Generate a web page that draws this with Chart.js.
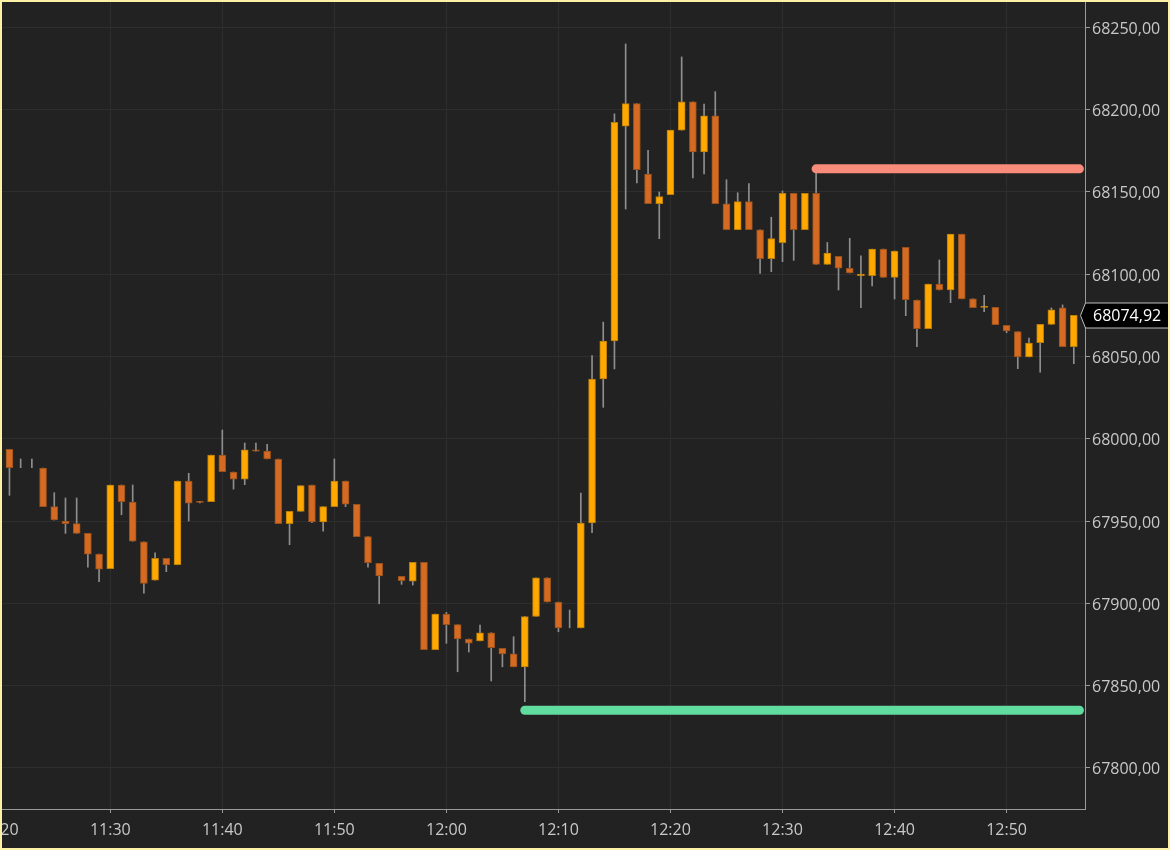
<!DOCTYPE html>
<html>
<head>
<meta charset="utf-8">
<script src="https://cdn.jsdelivr.net/npm/chart.js@4.4.0/dist/chart.umd.min.js"></script>
<style>
  html, body { margin: 0; padding: 0; background: #222; }
  #frame { width: 1166px; height: 846px; border: 2px solid #fbf2a6; }
  canvas { display: block; background: #222222; }
</style>
</head>
<body>
<div id="frame"><canvas id="priceChart" width="1166" height="846"></canvas></div>
<script>
// 1-minute candles, 11:21 - 12:56 (no bar at 11:55)
const times = [
  '11:21','11:22','11:23','11:24','11:25','11:26','11:27','11:28','11:29','11:30',
  '11:31','11:32','11:33','11:34','11:35','11:36','11:37','11:38','11:39','11:40',
  '11:41','11:42','11:43','11:44','11:45','11:46','11:47','11:48','11:49','11:50',
  '11:51','11:52','11:53','11:54','11:56','11:57','11:58','11:59','12:00',
  '12:01','12:02','12:03','12:04','12:05','12:06','12:07','12:08','12:09','12:10',
  '12:11','12:12','12:13','12:14','12:15','12:16','12:17','12:18','12:19','12:20',
  '12:21','12:22','12:23','12:24','12:25','12:26','12:27','12:28','12:29','12:30',
  '12:31','12:32','12:33','12:34','12:35','12:36','12:37','12:38','12:39','12:40',
  '12:41','12:42','12:43','12:44','12:45','12:46','12:47','12:48','12:49','12:50',
  '12:51','12:52','12:53','12:54','12:55','12:56'
];

const opens = [
  67993.6, 67985, 67985, 67982.2, 67958.7, 67950, 67948.4, 67942.5, 67929.9, 67921,
  67971.9, 67961.5, 67937.4, 67914.1, 67927.3, 67923.4, 67974.3, 67961.7, 67961.7, 67990.1,
  67979.8, 67975.5, 67993.2, 67992.5, 67987.7, 67948.4, 67955.9, 67971.9, 67949.4, 67958.7,
  67974.3, 67960.1, 67940.5, 67924.3, 67916.4, 67913.5, 67924.9, 67871.8, 67893.5,
  67887, 67878.3, 67877.2, 67882.1, 67872.6, 67869.3, 67861.4, 67892, 67915.5, 67900.8,
  67886, 67885.1, 67948.8, 68036.3, 68059.4, 68189.9, 68203.6, 68160.9, 68142.8, 68148.3,
  68187.5, 68204.7, 68174.3, 68196.2, 68142.7, 68127, 68144.1, 68126.9, 68109.4, 68119.1,
  68149.2, 68127, 68149.2, 68106, 68110.9, 68103.6, 68099.1, 68099.1, 68115.3, 68098.1,
  68116.3, 68084.3, 68066.9, 68094, 68090.4, 68124.3, 68085, 68079.8, 68079.9, 68068.9,
  68065.1, 68049.7, 68058.4, 68069.5, 68079.5, 68055.9
];

const highs = [
  67993.6, 67987.7, 67987.7, 67982.2, 67967.2, 67964, 67964, 67942.5, 67929.9, 67971.9,
  67971.9, 67971.9, 67937.4, 67930.7, 67927.3, 67974.3, 67979, 67962, 67990.1, 68005.3,
  67979.8, 67997.4, 67997.4, 67996.6, 67987.7, 67955.9, 67971.5, 67971.9, 67958.7, 67987.7,
  67974.3, 67960.1, 67940.5, 67924.3, 67916.4, 67924.9, 67924.9, 67893.5, 67894.5,
  67887, 67878.3, 67886.8, 67882.1, 67872.6, 67879.7, 67892, 67915.5, 67915.5, 67900.8,
  67895.9, 67967, 68050.5, 68070.9, 68197.4, 68239.9, 68203.6, 68175.3, 68150, 68187.5,
  68232, 68204.7, 68203.3, 68210.9, 68157.4, 68149.5, 68155, 68126.9, 68134.6, 68150.6,
  68149.2, 68149.2, 68163.3, 68119.3, 68110.9, 68121.8, 68111.1, 68115.3, 68115.3, 68114.1,
  68116.3, 68084.3, 68094, 68108.6, 68124.3, 68124.3, 68085, 68087.2, 68079.9, 68068.9,
  68065.1, 68061.2, 68069.5, 68079.5, 68081.3, 68074.92
];

const lows = [
  67965.6, 67982.4, 67982.4, 67958.7, 67950.6, 67942.5, 67942.5, 67922, 67913.1, 67921,
  67953.8, 67937.7, 67906.1, 67914.1, 67919.2, 67923.4, 67950, 67961, 67961.7, 67980,
  67969.4, 67972.1, 67992.5, 67987.7, 67948.4, 67935.6, 67955.9, 67949, 67943.9, 67958.7,
  67958.7, 67940.5, 67921.9, 67899.7, 67911.5, 67911.1, 67871.8, 67871.8, 67875.7,
  67858.4, 67870.4, 67877.2, 67852.8, 67861.4, 67861.4, 67840.2, 67892, 67900.8, 67882.7,
  67885.1, 67885.1, 67942.9, 68019.1, 68042.4, 68139.6, 68155.4, 68142.8, 68121.6, 68148.3,
  68187.5, 68158.5, 68160.9, 68142.8, 68127, 68127, 68127, 68100.5, 68101.5, 68107.6,
  68108.4, 68127, 68106, 68106, 68090.4, 68100.7, 68079.6, 68092.8, 68098.1, 68084.9,
  68074.8, 68055.9, 68066.9, 68090.4, 68082.7, 68085, 68079.6, 68077.2, 68069.3, 68064.4,
  68042.6, 68049.7, 68040.4, 68069.5, 68055.9, 68045.6
];

const closes = [
  67982.4, 67985, 67985, 67958.7, 67950.6, 67948.4, 67942.5, 67929.9, 67920.8, 67971.9,
  67961.7, 67937.7, 67912.1, 67927.3, 67923.4, 67974.3, 67960.8, 67961.3, 67990.1, 67980,
  67975.5, 67993.2, 67992.5, 67987.7, 67948.4, 67955.9, 67971.5, 67949.4, 67958.7, 67974.3,
  67960.3, 67940.5, 67924.7, 67916.6, 67913.7, 67924.9, 67871.8, 67893.5, 67887,
  67878.3, 67875.8, 67882.1, 67873, 67869.3, 67861.4, 67892, 67915.5, 67900.8, 67885.1,
  67886, 67948.8, 68036.3, 68059.4, 68192.3, 68203.6, 68163.5, 68142.8, 68147.1, 68187.5,
  68204.7, 68174.3, 68196.2, 68142.8, 68127, 68144.1, 68127, 68109.4, 68121.6, 68149.2,
  68127, 68149.2, 68106, 68112.8, 68103.6, 68100.7, 68100.1, 68115.3, 68098.1, 68114.1,
  68084.5, 68066.9, 68094, 68090.4, 68124.3, 68085, 68079.6, 68080.2, 68069.3, 68065.5,
  68049.7, 68058.2, 68069.5, 68078.4, 68055.9, 68074.92
];

// horizontal levels
const highLevel = { from: '12:33', value: 68164 };
const lowLevel = { from: '12:07', value: 67835 };

const xTickLabels = ['11:20', '11:30', '11:40', '11:50', '12:00', '12:10', '12:20', '12:30', '12:40', '12:50'];
const yTicks = [67800, 67850, 67900, 67950, 68000, 68050, 68100, 68150, 68200, 68250];

const toMin = t => { const [h, m] = t.split(':').map(Number); return h * 60 + m - (11 * 60 + 20); };
const fmt = v => v.toFixed(2).replace('.', ',');

const upColor = '#ffa800', downColor = '#d56a22', wickColor = '#8e8e8e';
const noBody = 'rgba(0,0,0,0)';
const bodyColor = i => closes[i] > opens[i] ? upColor : closes[i] < opens[i] ? downColor : noBody;
const edgeColor = i => closes[i] > opens[i] ? '#b87c08' : closes[i] < opens[i] ? '#96501c' : noBody;

const xs = times.map(toMin);
const lastX = xs[xs.length - 1] + 0.5;

const levelLine = (lvl, color) => ({
  type: 'line',
  data: [{ x: toMin(lvl.from), y: lvl.value }, { x: lastX, y: lvl.value }],
  borderColor: color,
  borderWidth: 9,
  borderCapStyle: 'round',
  pointRadius: 0,
  order: 1
});

const lastPriceTag = {
  id: 'lastPriceTag',
  afterDraw(chart) {
    const { ctx, chartArea, scales: { y } } = chart;
    const last = closes[closes.length - 1];
    const py = Math.round(y.getPixelForValue(last)) + 0.5;
    const x0 = chartArea.right + 0.5, h = 12.5;
    ctx.save();
    ctx.beginPath();
    ctx.moveTo(x0 - 5, py);
    ctx.lineTo(x0, py - h);
    ctx.lineTo(chart.width + 2, py - h);
    ctx.lineTo(chart.width + 2, py + h);
    ctx.lineTo(x0, py + h);
    ctx.closePath();
    ctx.fillStyle = '#000';
    ctx.fill();
    ctx.strokeStyle = '#bdbdbd';
    ctx.lineWidth = 1;
    ctx.stroke();
    ctx.fillStyle = '#ffffff';
    ctx.font = '16px "Open Sans"';
    ctx.textBaseline = 'middle';
    ctx.textAlign = 'left';
    ctx.fillText(fmt(last), x0 + 7.5, py + 1);
    ctx.restore();
  }
};

new Chart(document.getElementById('priceChart'), {
  type: 'bar',
  data: {
    datasets: [
      {
        label: 'wick',
        data: xs.map((x, i) => ({ x, y: [lows[i], highs[i]] })),
        backgroundColor: wickColor,
        barThickness: 1,
        grouped: false,
        order: 3
      },
      {
        label: 'body',
        data: xs.map((x, i) => ({ x, y: [opens[i], closes[i]] })),
        backgroundColor: xs.map((x, i) => bodyColor(i)),
        borderColor: xs.map((x, i) => edgeColor(i)),
        borderWidth: 1,
        borderSkipped: false,
        barThickness: 7,
        minBarLength: 1,
        grouped: false,
        order: 2
      },
      levelLine(highLevel, '#f98b7b'),
      levelLine(lowLevel, '#60dc9e')
    ]
  },
  options: {
    animation: false,
    responsive: false,
    devicePixelRatio: 1,
    layout: { padding: 0 },
    plugins: { legend: { display: false }, tooltip: { enabled: false } },
    scales: {
      x: {
        type: 'linear',
        offset: false,
        min: 0.335,
        max: 97,
        afterBuildTicks: s => { s.ticks = xTickLabels.map(t => ({ value: toMin(t) })); },
        afterFit: s => { s.height = 39; s.paddingLeft = 0; s.paddingRight = 0; },
        grid: { color: '#2e2e2e', tickColor: '#9a9a9a', tickLength: 4, offset: false },
        border: { color: '#9a9a9a' },
        ticks: {
          autoSkip: false,
          maxRotation: 0,
          padding: 8,
          color: '#c8c8c8',
          font: { family: 'Open Sans', size: 16 },
          callback: v => xTickLabels.find(t => toMin(t) === v)
        }
      },
      y: {
        position: 'right',
        min: 67775,
        max: 68265.4,
        beginAtZero: false,
        afterBuildTicks: s => { s.ticks = yTicks.map(v => ({ value: v })); },
        afterFit: s => { s.width = 83; s.paddingTop = 0; s.paddingBottom = 0; },
        grid: { color: '#2e2e2e', tickColor: '#9a9a9a', tickLength: 5 },
        border: { color: '#9a9a9a' },
        ticks: {
          padding: 2,
          labelOffset: 2,
          color: '#c8c8c8',
          font: { family: 'Open Sans', size: 16 },
          callback: v => fmt(v)
        }
      }
    }
  },
  plugins: [lastPriceTag]
});
</script>
</body>
</html>
